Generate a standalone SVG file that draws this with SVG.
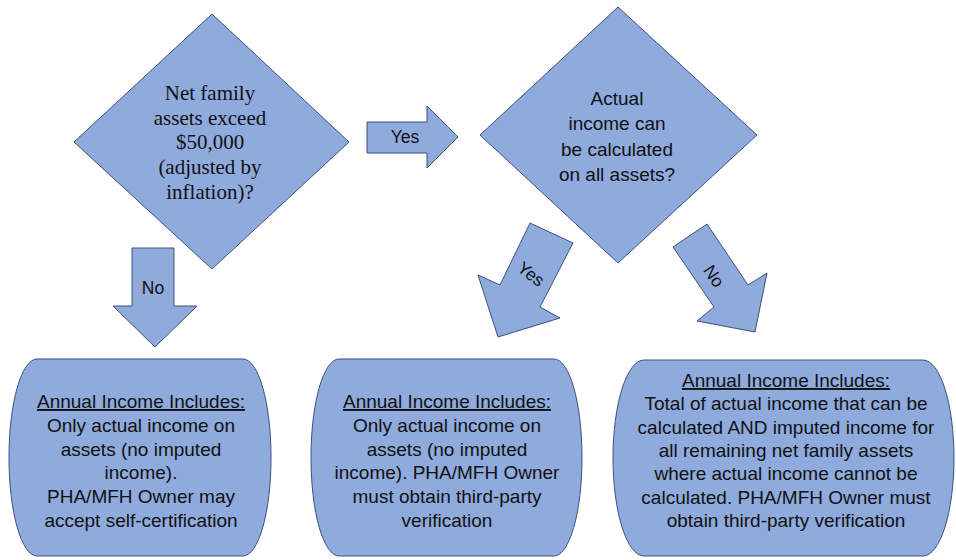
<svg xmlns="http://www.w3.org/2000/svg" width="956" height="560" viewBox="0 0 956 560">
<style>
.shape{fill:#8FAADC;stroke:#3E5179;stroke-width:1;stroke-linejoin:miter}
.serif{font-family:"Liberation Serif","Times New Roman",serif;font-size:21px;fill:#111;text-anchor:middle}
.sans{font-family:"Liberation Sans",Arial,sans-serif;font-size:19px;fill:#111;text-anchor:middle}
.lbl{font-family:"Liberation Sans",Arial,sans-serif;font-size:17.5px;fill:#111;text-anchor:middle;dominant-baseline:central}
.u{text-decoration:underline}
</style>
<rect width="956" height="560" fill="#ffffff"/>
<g id="decision-assets">
<polygon class="shape" points="212,14 349,142 212,269 74,142"/>
<text class="serif"><tspan x="210" y="100">Net family</tspan><tspan x="210" y="124.5">assets exceed</tspan><tspan x="210" y="149">$50,000</tspan><tspan x="210" y="174">(adjusted by</tspan><tspan x="210" y="198.5">inflation)?</tspan></text>
</g>
<g id="decision-actual">
<polygon class="shape" points="618,7 757,135 618,263 480,135"/>
<text class="sans"><tspan x="617" y="105">Actual</tspan><tspan x="617" y="130">income can</tspan><tspan x="617" y="156">be calculated</tspan><tspan x="617" y="181">on all assets?</tspan></text>
</g>
<g id="result-no-imputed-self">
<rect class="shape" x="9" y="359" width="262" height="197" rx="28" ry="98"/>
<text class="sans"><tspan x="141" y="408" class="u">Annual Income Includes:</tspan><tspan x="141" y="431.8">Only actual income on</tspan><tspan x="141" y="455.6">assets (no imputed</tspan><tspan x="141" y="479.4">income).</tspan><tspan x="141" y="503.2">PHA/MFH Owner may</tspan><tspan x="141" y="527">accept self-certification</tspan></text>
</g>
<g id="result-no-imputed-verify">
<rect class="shape" x="311" y="359" width="271" height="197" rx="28" ry="98"/>
<text class="sans"><tspan x="447" y="408" class="u">Annual Income Includes:</tspan><tspan x="447" y="431.8">Only actual income on</tspan><tspan x="447" y="455.6">assets (no imputed</tspan><tspan x="447" y="479.4">income). PHA/MFH Owner</tspan><tspan x="447" y="503.2">must obtain third-party</tspan><tspan x="447" y="527">verification</tspan></text>
</g>
<g id="result-imputed">
<rect class="shape" x="613" y="360" width="341" height="196" rx="31" ry="98"/>
<text class="sans"><tspan x="786" y="387" class="u">Annual Income Includes:</tspan><tspan x="786" y="410.3">Total of actual income that can be</tspan><tspan x="786" y="433.7">calculated AND imputed income for</tspan><tspan x="786" y="457">all remaining net family assets</tspan><tspan x="786" y="480.3">where actual income cannot be</tspan><tspan x="786" y="503.7">calculated. PHA/MFH Owner must</tspan><tspan x="786" y="527">obtain third-party verification</tspan></text>
</g>
<g id="connectors">
<g id="arrow-yes-right">
<polygon class="shape" points="367,122 427,122 427,106 458,137 427,168 427,153 367,153"/>
<text class="lbl" x="405" y="137">Yes</text>
</g>
<g id="arrow-no-down">
<polygon class="shape" points="132,248 174,248 174,306 197,306 155,347 113,306 132,306"/>
<text class="lbl" x="153" y="288">No</text>
</g>
<g id="arrow-yes-diag">
<polygon class="shape" points="530,223 573,243 540,307 560,318 498,337 478,275 500,285"/>
<text class="lbl" transform="translate(531,274) rotate(38)" x="0" y="0">Yes</text>
</g>
<g id="arrow-no-diag">
<polygon class="shape" points="673,247 707,224 748,285 767,273 755,332 697,321 714,307"/>
<text class="lbl" transform="translate(714,276) rotate(57)" x="0" y="0">No</text>
</g>
</g>
</svg>
